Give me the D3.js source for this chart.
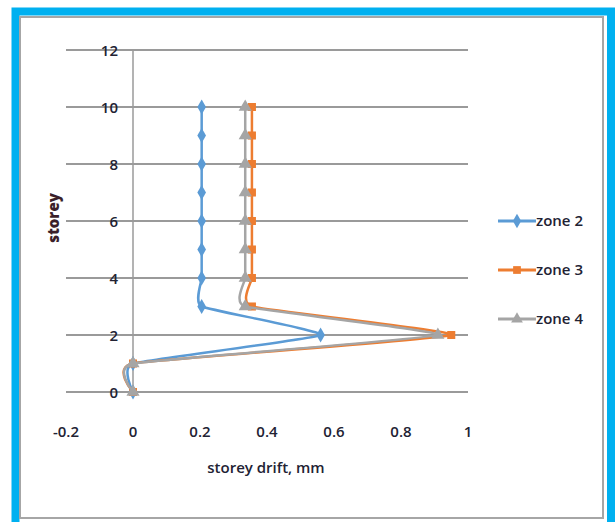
<!DOCTYPE html>
<meta charset="utf-8">
<title>Storey drift</title>
<script src="https://d3js.org/d3.v7.min.js"></script>
<style>
  body { margin: 0; background: #fff; }
  text { font-family: "Open Sans", "DejaVu Sans", sans-serif; fill: #222233; font-weight: 600; }
</style>
<body>
<div id="chart"></div>
<script>
// data
var storeys = [0, 1, 2, 3, 4, 5, 6, 7, 8, 9, 10];
var zone2 = [0, 0, 0.56, 0.205, 0.205, 0.205, 0.205, 0.205, 0.205, 0.205, 0.205];
var zone3 = [0, 0, 0.95, 0.355, 0.355, 0.355, 0.355, 0.355, 0.355, 0.355, 0.355];
var zone4 = [0, 0, 0.91, 0.335, 0.335, 0.335, 0.335, 0.335, 0.335, 0.335, 0.335];
var seriesNames = ["zone 2", "zone 3", "zone 4"];
var xTicks = [-0.2, 0, 0.2, 0.4, 0.6, 0.8, 1];
var yTicks = [0, 2, 4, 6, 8, 10, 12];

var colors = ["#5b9bd5", "#ed7d31", "#a5a5a5"];
var symbols = [d3.symbolDiamond, d3.symbolSquare, d3.symbolTriangle];

var W = 616, H = 522;
var svg = d3.select("#chart").append("svg")
    .attr("width", W)
    .attr("height", H);

// frame
svg.append("rect")
    .attr("x", 15.5).attr("y", 11.5)
    .attr("width", 595.5).attr("height", 520)
    .attr("fill", "none")
    .attr("stroke", "#00b0f0")
    .attr("stroke-width", 8);
svg.append("rect")
    .attr("x", 20).attr("y", 17)
    .attr("width", 583).attr("height", 501)
    .attr("fill", "#fff")
    .attr("stroke", "#a6a6a6")
    .attr("stroke-width", 2);

var x = d3.scaleLinear().domain([-0.2, 1]).range([66, 468]);
var y = d3.scaleLinear().domain([0, 12]).range([392, 50]);

// horizontal gridlines
svg.append("g").selectAll("line")
    .data(yTicks)
    .enter().append("line")
    .attr("x1", x(-0.2)).attr("x2", x(1))
    .attr("y1", function (d) { return y(d); })
    .attr("y2", function (d) { return y(d); })
    .attr("stroke", "#9a9a9a")
    .attr("stroke-width", 2);

// vertical axis at x = 0
svg.append("line")
    .attr("x1", x(0)).attr("x2", x(0))
    .attr("y1", y(12)).attr("y2", y(0))
    .attr("stroke", "#9a9a9a")
    .attr("stroke-width", 1.5);

// y tick labels
svg.append("g").selectAll("text")
    .data(yTicks)
    .enter().append("text")
    .attr("x", 118)
    .attr("y", function (d) { return y(d) + 6; })
    .attr("text-anchor", "end")
    .attr("font-size", 15)
    .text(function (d) { return d; });

// x tick labels
svg.append("g").selectAll("text")
    .data(xTicks)
    .enter().append("text")
    .attr("x", function (d) { return x(d); })
    .attr("y", 437)
    .attr("text-anchor", "middle")
    .attr("font-size", 15)
    .text(function (d) { return d; });

// axis titles
svg.append("text")
    .attr("x", 266).attr("y", 473)
    .attr("text-anchor", "middle")
    .attr("font-size", 15)
    .text("storey drift, mm");
svg.append("text")
    .attr("transform", "translate(59,218) rotate(-90)")
    .attr("text-anchor", "middle")
    .attr("font-size", 15)
    .style("font-weight", "800")
    .style("fill", "#3a1f2a")
    .text("storey");

// series, lightly smoothed like the spreadsheet lines
var allSeries = [zone2, zone3, zone4];
var line = d3.line()
    .curve(d3.curveCardinal.tension(0.6))
    .x(function (d) { return x(d[0]); })
    .y(function (d) { return y(d[1]); });

allSeries.forEach(function (vals, i) {
    var pts = vals.map(function (v, k) { return [v, storeys[k]]; });
    svg.append("path")
        .datum(pts)
        .attr("d", line)
        .attr("fill", "none")
        .attr("stroke", colors[i])
        .attr("stroke-width", 2.5);
    svg.append("g").selectAll("path")
        .data(pts)
        .enter().append("path")
        .attr("transform", function (d) { return "translate(" + x(d[0]) + "," + y(d[1]) + ")"; })
        .attr("d", d3.symbol().type(symbols[i]).size(i === 2 ? 75 : 65))
        .attr("fill", colors[i]);
});

// legend
var legend = svg.append("g").selectAll("g")
    .data(seriesNames)
    .enter().append("g")
    .attr("transform", function (d, i) { return "translate(498," + (221 + i * 49) + ")"; });
legend.append("line")
    .attr("x1", 0).attr("x2", 38)
    .attr("stroke", function (d, i) { return colors[i]; })
    .attr("stroke-width", 3);
legend.append("path")
    .attr("transform", "translate(19,0)")
    .attr("d", function (d, i) { return d3.symbol().type(symbols[i]).size(60)(); })
    .attr("fill", function (d, i) { return colors[i]; });
legend.append("text")
    .attr("x", 38).attr("y", 5)
    .attr("font-size", 15)
    .text(function (d) { return d; });
</script>
</body>
